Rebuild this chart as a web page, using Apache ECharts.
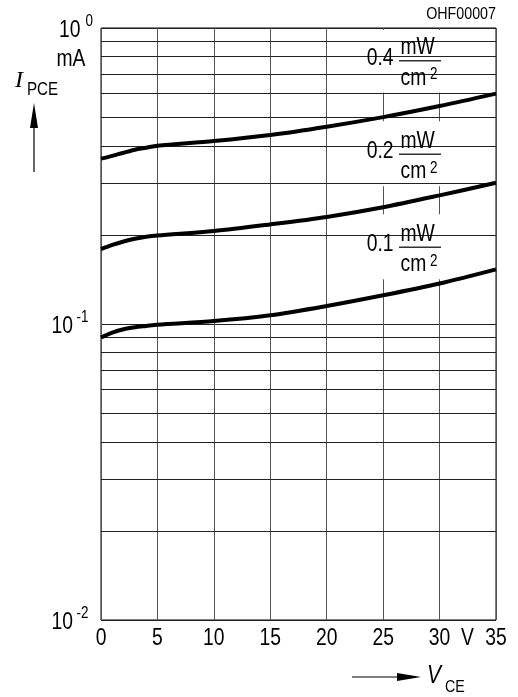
<!DOCTYPE html>
<html><head><meta charset="utf-8">
<script src="https://cdn.jsdelivr.net/npm/echarts@6/dist/echarts.min.js"></script>
<style>html,body{margin:0;padding:0;background:#fff}#c{width:518px;height:697px}</style>
</head><body><div id="c"></div>
<script>
// ---- data ----
const vce = [0, 1, 2, 3, 4, 5, 10, 15, 20, 25, 30, 35];
const ipce04 = [0.362, 0.370, 0.379, 0.388, 0.394, 0.400, 0.415, 0.435, 0.464, 0.500, 0.545, 0.600];
const ipce02 = [0.179, 0.185, 0.190, 0.194, 0.197, 0.199, 0.206, 0.217, 0.230, 0.248, 0.272, 0.300];
const ipce01 = [0.090, 0.0935, 0.096, 0.0975, 0.0985, 0.0995, 0.1023, 0.107, 0.115, 0.125, 0.137, 0.153];
const irradiance = ['0.4', '0.2', '0.1'];
const xTicks = [0, 5, 10, 15, 20, 25, 30, 35];
const yDecades = [0.01, 0.1, 1];
const yExponents = ['-2', '-1', '0'];
const yMinorGrid = [0.02, 0.03, 0.04, 0.05, 0.06, 0.07, 0.08, 0.09, 0.2, 0.3, 0.4, 0.5, 0.6, 0.7, 0.8, 0.9];

const FONT = '"Liberation Sans",Arial,sans-serif';
const SX = 0.84; // condensed look
const chart = echarts.init(document.getElementById('c'), null, {renderer: 'canvas'});

function curve(arr) {
  return {
    type: 'line', smooth: 0.3, symbol: 'none', z: 5,
    data: vce.map((x, i) => [x, arr[i]]),
    lineStyle: {color: '#000', width: 4}
  };
}

chart.setOption({
  animation: false,
  grid: {left: 101, right: 22, top: 28, bottom: 77, show: true, borderColor: '#000', borderWidth: 1, backgroundColor: 'transparent'},
  xAxis: {
    type: 'value', min: xTicks[0], max: xTicks[xTicks.length - 1], interval: 5,
    axisLine: {show: false}, axisTick: {show: false}, axisLabel: {show: false},
    splitLine: {show: true, lineStyle: {color: '#555', width: 1}}
  },
  yAxis: {
    type: 'log', logBase: 10, min: yDecades[0], max: yDecades[yDecades.length - 1],
    axisLine: {show: false}, axisTick: {show: false}, axisLabel: {show: false},
    splitLine: {show: true, lineStyle: {color: '#222', width: 1}}
  },
  series: [
    {
      type: 'line', data: [], z: 1, silent: true,
      markLine: {silent: true, symbol: 'none', label: {show: false}, animation: false,
        lineStyle: {color: '#222', width: 1, type: 'solid'},
        data: yMinorGrid.map(v => ({yAxis: v}))}
    },
    curve(ipce04), curve(ipce02), curve(ipce01)
  ]
});

// ---- annotations ----
const g = [];
function txt(x, y, text, opt, sx) {
  g.push({type: 'text', x: x, y: y, z: 10, scaleX: sx === undefined ? SX : sx,
    style: Object.assign({text: text, fontFamily: FONT, fontSize: 23, fill: '#000', align: 'left', verticalAlign: 'middle'}, opt || {})});
}
// x tick labels from the axis scale
xTicks.forEach(v => {
  const px = chart.convertToPixel({xAxisIndex: 0}, v);
  txt(px, 638.5, String(v), {align: 'center'});
});
txt(467.5, 638.5, 'V', {align: 'center'});
// y decade labels from the axis scale
yDecades.forEach((v, i) => {
  const ty = chart.convertToPixel({yAxisIndex: 0}, v);
  const top = i === yDecades.length - 1;
  txt(top ? 80.5 : 73, ty + 2.7, '10', {align: 'right'});
  txt(top ? 85.5 : 76.5, ty - 6, yExponents[i], {fontSize: 16});
});
txt(85.5, 60, 'mA', {align: 'right'});
// I_PCE
g.push({type: 'text', x: 15, y: 81, z: 10, style: {text: 'I', fontFamily: '"Liberation Serif","Times New Roman",serif', fontStyle: 'italic', fontSize: 24, fill: '#000', verticalAlign: 'middle'}});
txt(27, 90, 'PCE', {fontSize: 18});
g.push({type: 'line', z: 10, shape: {x1: 34, y1: 172, x2: 34, y2: 120}, style: {stroke: '#000', lineWidth: 1.2}});
g.push({type: 'polygon', z: 10, shape: {points: [[34, 103], [30, 128], [38, 128]]}, style: {fill: '#000'}});
// x axis title
g.push({type: 'line', z: 10, shape: {x1: 352, y1: 677, x2: 400, y2: 677}, style: {stroke: '#000', lineWidth: 1.2}});
g.push({type: 'polygon', z: 10, shape: {points: [[421, 677], [397, 673], [397, 681]]}, style: {fill: '#000'}});
txt(427, 676, 'V', {fontStyle: 'italic', fontSize: 25});
txt(445, 687, 'CE', {fontSize: 17});
// figure code
txt(496, 14.5, 'OHF00007', {align: 'right', fontSize: 17});
// irradiance labels
const barY = [60.7, 154.3, 247.3];
irradiance.forEach((t, i) => {
  const b = barY[i];
  const top = Math.max(b - 33, 30);
  g.push({type: 'rect', z: 3, shape: {x: 355, y: top, width: 96, height: b + 32 - top}, style: {fill: '#fff'}});
  txt(393.5, b - 2.5, t, {align: 'right'});
  txt(400.5, b - 13, 'mW');
  g.push({type: 'line', z: 10, shape: {x1: 399, y1: b, x2: 441, y2: b}, style: {stroke: '#333', lineWidth: 1.5}});
  txt(400.5, b + 17.5, 'cm');
  txt(430, b + 14, '2', {fontSize: 16});
});
chart.setOption({graphic: g});
</script>
</body></html>
